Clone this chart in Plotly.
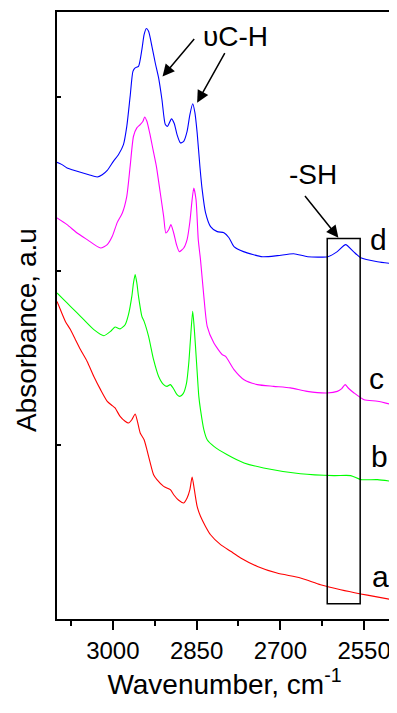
import plotly.graph_objects as go

# ---- data (wavenumber in cm-1, absorbance in arbitrary units, offset spectra) ----
wn_d = [3100, 3091, 3082, 3073, 3058, 3043, 3028, 3019, 3010, 2999, 2990, 2981, 2975, 2969, 2964, 2960,
        2954, 2948, 2944, 2940, 2936, 2930, 2924, 2918, 2912, 2906, 2902, 2895, 2890, 2885, 2879, 2873,
        2867, 2862, 2857, 2853, 2849, 2844, 2840, 2834, 2825, 2813, 2801, 2792, 2783, 2766, 2732, 2705,
        2676, 2651, 2615, 2598, 2583, 2569, 2556, 2526, 2500]
abs_d = [2.624, 2.611, 2.592, 2.582, 2.567, 2.553, 2.540, 2.553, 2.578, 2.630, 2.668, 2.726, 2.831, 3.003,
         3.147, 3.167, 3.176, 3.272, 3.358, 3.393, 3.377, 3.291, 3.195, 3.109, 2.984, 2.841, 2.831, 2.874,
         2.847, 2.783, 2.736, 2.745, 2.802, 2.898, 2.961, 2.910, 2.795, 2.599, 2.467, 2.335, 2.255, 2.226,
         2.220, 2.191, 2.140, 2.111, 2.082, 2.088, 2.099, 2.082, 2.082, 2.111, 2.151, 2.111, 2.076, 2.053,
         2.042]

wn_c = [3100, 3082, 3064, 3046, 3022, 3010, 3001, 2992, 2983, 2975, 2969, 2963, 2957, 2951, 2946, 2943,
        2939, 2934, 2928, 2922, 2915, 2909, 2905, 2900, 2896, 2891, 2886, 2881, 2873, 2867, 2862, 2858,
        2855, 2851, 2847, 2843, 2837, 2831, 2819, 2804, 2798, 2783, 2765, 2741, 2712, 2682, 2652, 2616,
        2598, 2590, 2584, 2578, 2568, 2550, 2526, 2500]
abs_c = [2.305, 2.266, 2.218, 2.180, 2.132, 2.151, 2.199, 2.279, 2.333, 2.429, 2.601, 2.774, 2.822, 2.841,
         2.860, 2.885, 2.860, 2.793, 2.697, 2.601, 2.448, 2.314, 2.218, 2.237, 2.266, 2.218, 2.151, 2.111,
         2.132, 2.180, 2.283, 2.410, 2.477, 2.410, 2.180, 2.065, 1.854, 1.682, 1.586, 1.519, 1.509, 1.433,
         1.375, 1.347, 1.337, 1.328, 1.308, 1.299, 1.308, 1.324, 1.347, 1.326, 1.299, 1.260, 1.251, 1.232]

wn_b = [3100, 3088, 3076, 3064, 3052, 3034, 3016, 3004, 2996, 2987, 2978, 2972, 2966, 2963, 2960, 2957,
        2954, 2948, 2944, 2936, 2927, 2918, 2909, 2903, 2897, 2891, 2885, 2880, 2874, 2868, 2864, 2861,
        2857, 2854, 2850, 2846, 2843, 2837, 2831, 2819, 2795, 2765, 2730, 2664, 2604, 2574, 2556, 2526,
        2500]
abs_b = [1.874, 1.835, 1.797, 1.759, 1.720, 1.663, 1.628, 1.653, 1.678, 1.667, 1.691, 1.749, 1.854, 1.931,
         1.979, 1.931, 1.854, 1.739, 1.710, 1.624, 1.490, 1.394, 1.347, 1.337, 1.347, 1.322, 1.289, 1.279,
         1.295, 1.356, 1.471, 1.605, 1.768, 1.663, 1.471, 1.279, 1.203, 1.088, 1.030, 0.992, 0.944, 0.897,
         0.868, 0.835, 0.824, 0.824, 0.801, 0.801, 0.791]

wn_a = [3100, 3094, 3085, 3076, 3067, 3058, 3046, 3034, 3022, 3010, 3001, 2996, 2987, 2978, 2972, 2966,
        2960, 2956, 2951, 2944, 2939, 2933, 2927, 2921, 2909, 2897, 2891, 2882, 2873, 2867, 2862, 2858,
        2854, 2849, 2843, 2834, 2825, 2807, 2789, 2771, 2741, 2706, 2664, 2628, 2592, 2556, 2532, 2500]
abs_a = [1.825, 1.778, 1.710, 1.663, 1.605, 1.548, 1.480, 1.394, 1.318, 1.251, 1.226, 1.213, 1.164, 1.136,
         1.126, 1.145, 1.178, 1.136, 1.069, 1.030, 0.973, 0.897, 0.829, 0.801, 0.762, 0.743, 0.714, 0.682,
         0.667, 0.695, 0.743, 0.816, 0.743, 0.647, 0.590, 0.532, 0.484, 0.427, 0.389, 0.351, 0.302, 0.264,
         0.236, 0.197, 0.168, 0.144, 0.130, 0.111]

series = [
    ("a", wn_a, abs_a, "#FF0000"),
    ("b", wn_b, abs_b, "#00FF00"),
    ("c", wn_c, abs_c, "#FF00FF"),
    ("d", wn_d, abs_d, "#0000FF"),
]

x_major_ticks = [3000, 2850, 2700, 2550]
x_minor_ticks = [3075, 2925, 2775, 2625]
y_ticks = [0, 1, 2, 3]

# curve-label positions (wavenumber, absorbance)
label_pos = {"a": (2520, 0.243), "b": (2522, 0.933), "c": (2527, 1.381), "d": (2524, 2.180)}

FONT = "Arial, 'Liberation Sans', sans-serif"

fig = go.Figure()
for name, x, y, col in series:
    fig.add_trace(go.Scatter(x=x, y=y, mode="lines", name=name,
                             line=dict(color=col, width=1.1, shape="spline", smoothing=0.6),
                             showlegend=False, hoverinfo="skip"))

annotations = []
for name, (lx, ly) in label_pos.items():
    annotations.append(dict(x=lx, y=ly, xref="x", yref="y", text=name, showarrow=False,
                            font=dict(size=30, family=FONT, color="black"),
                            xanchor="center", yanchor="middle"))

annotations.append(dict(x=2780, y=3.347, xref="x", yref="y", text="\u03c5C-H", showarrow=False,
                        font=dict(size=28, family=FONT, color="black")))
annotations.append(dict(x=2642, y=2.553, xref="x", yref="y", text="-SH", showarrow=False,
                        font=dict(size=28, family=FONT, color="black")))

# y-axis title (placed as a rotated annotation so it sits slightly below the axis centre, as in the original)
annotations.append(dict(x=-0.0925, y=0.476, xref="paper", yref="paper", text="Absorbance, a.u",
                        textangle=-90, showarrow=False, xanchor="center", yanchor="middle",
                        font=dict(size=28, family=FONT, color="black")))

arrows = [
    ((2911, 3.117), (2852, 3.341)),
    ((2849, 2.967), (2798, 3.260)),
    ((2596, 2.191), (2658, 2.439)),
]
for (hx, hy), (tx, ty) in arrows:
    annotations.append(dict(x=hx, y=hy, ax=tx, ay=ty, xref="x", yref="y", axref="x", ayref="y",
                            text="", showarrow=True, arrowhead=2, arrowsize=1.6, arrowwidth=1.5,
                            arrowcolor="black", standoff=0))

fig.add_shape(type="rect", xref="x", yref="y", x0=2616, x1=2557, y0=0.088, y1=2.186,
              line=dict(color="black", width=1.5), fillcolor="rgba(0,0,0,0)")

# the page body adds an 8px offset, so the figure is sized to the remaining viewport
fig.update_layout(
    width=389, height=705,
    margin=dict(l=49, r=5, t=4, b=94, autoexpand=False),
    paper_bgcolor="white", plot_bgcolor="white",
    font=dict(family=FONT, color="black"),
    annotations=annotations,
)
fig.update_xaxes(
    range=[3100, 2500], showgrid=False, zeroline=False, automargin=False,
    showline=True, linecolor="black", linewidth=2, mirror=True,
    tickmode="array", tickvals=x_major_ticks, ticktext=[str(v) for v in x_major_ticks],
    ticks="outside", ticklen=9, tickwidth=2, tickcolor="black",
    minor=dict(tickmode="array", tickvals=x_minor_ticks, ticks="outside", ticklen=5, tickwidth=2,
               tickcolor="black", showgrid=False),
    tickfont=dict(size=24, family=FONT, color="black"),
    title=dict(text="Wavenumber, cm<sup>-1</sup>", font=dict(size=28, family=FONT, color="black"),
               standoff=8),
)
fig.update_yaxes(
    range=[0, 3.488], showgrid=False, zeroline=False, automargin=False,
    showline=True, linecolor="black", linewidth=2, mirror=True,
    tickmode="array", tickvals=y_ticks, showticklabels=False,
    ticks="inside", ticklen=4, tickwidth=2, tickcolor="black",
)

fig.write_html("out.html")
